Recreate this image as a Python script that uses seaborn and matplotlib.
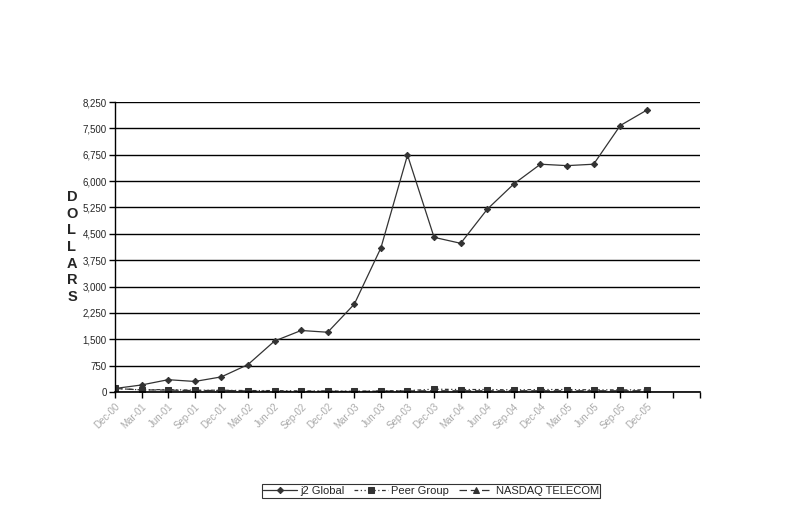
import matplotlib
matplotlib.use("Agg")
import matplotlib.pyplot as plt
import seaborn as sns
import pandas as pd
import numpy as np

quarters = ["Dec-00", "Mar-01", "Jun-01", "Sep-01", "Dec-01", "Mar-02", "Jun-02",
            "Sep-02", "Dec-02", "Mar-03", "Jun-03", "Sep-03", "Dec-03", "Mar-04",
            "Jun-04", "Sep-04", "Dec-04", "Mar-05", "Jun-05", "Sep-05", "Dec-05"]
j2_global = [100, 200, 350, 300, 430, 780, 1450, 1750, 1700, 2500, 4100, 6740,
             4400, 4230, 5200, 5920, 6480, 6440, 6480, 7580, 8020]
peer_group = [100, 60, 70, 50, 50, 40, 40, 30, 30, 20, 30, 40, 80, 70, 70, 60,
              70, 70, 60, 60, 60]
nasdaq_telecom = [100, 60, 55, 40, 45, 30, 20, 15, 20, 15, 25, 30, 35, 35, 35,
                  35, 35, 35, 35, 35, 35]
y_ticks = [0, 750, 1500, 2250, 3000, 3750, 4500, 5250, 6000, 6750, 7500, 8250]

sns.set_theme(style="white")
plt.rcParams['font.family'] = ['Liberation Sans', 'DejaVu Sans']

df = pd.DataFrame({
    "idx": list(range(len(quarters))) * 3,
    "value": j2_global + peer_group + nasdaq_telecom,
    "series": ["j2 Global"] * len(quarters) + ["Peer Group"] * len(quarters)
              + ["NASDAQ TELECOM"] * len(quarters),
})

fig = plt.figure(figsize=(7.95, 5.05), dpi=100)
ax = fig.add_axes([115 / 795, 1 - 392 / 505, 585 / 795, 290 / 505])

styles = {
    "j2 Global": dict(linestyle="-", marker="D", markersize=3.2, lw=0.9),
    "Peer Group": dict(linestyle=(0, (3, 2, 1, 2, 1, 2)), marker="s", markersize=5, lw=0.9),
    "NASDAQ TELECOM": dict(linestyle=(0, (6, 3)), marker="^", markersize=4, lw=0.9),
}
for name in ["j2 Global", "Peer Group", "NASDAQ TELECOM"]:
    sub = df[df.series == name]
    st = styles[name]
    sns.lineplot(data=sub, x="idx", y="value", ax=ax, color="#333333",
                 label=name, linestyle=st["linestyle"], marker=st["marker"],
                 markersize=st["markersize"], linewidth=st["lw"],
                 markeredgecolor="#333333", markerfacecolor="#333333")

ax.set_xlim(0, 22)
ax.set_ylim(0, 8250)
ax.set_yticks(y_ticks)
ax.set_yticklabels([f"{v:,}" for v in y_ticks], fontsize=7)
ax.set_xticks(range(23))
ax.set_xticklabels(quarters + ["", ""], rotation=45, ha="right",
                   rotation_mode="anchor", fontsize=7, color="#aaaaaa")
ax.tick_params(axis="x", length=4, width=1, color="black", direction="out", bottom=True, pad=3)
ax.tick_params(axis="y", length=4, width=1, color="black", direction="out", left=True, pad=2)
ax.grid(axis="y", color="black", linewidth=1)
ax.set_axisbelow(True)
for s in ["top", "right"]:
    ax.spines[s].set_visible(False)
ax.spines["left"].set_color("black")
ax.spines["bottom"].set_color("black")
ax.spines["left"].set_linewidth(1)
ax.spines["bottom"].set_linewidth(1.2)
ax.set_xlabel("")
ax.set_ylabel("")

fig.text(72 / 795, 1 - 247 / 505, "D\nO\nL\nL\nA\nR\nS", ha="center", va="center",
         fontsize=10.5, fontweight="bold", linespacing=1.25)

ax.get_legend().remove()
handles, labels = ax.get_legend_handles_labels()
leg = fig.legend(handles, labels, loc="center", bbox_to_anchor=(431 / 795, 1 - 491 / 505),
                 ncol=3, fontsize=8, frameon=True, fancybox=False, edgecolor="black",
                 handlelength=3.0, columnspacing=0.9, handletextpad=0.3,
                 borderpad=0.15)
leg.get_frame().set_linewidth(0.8)

fig.savefig("out.png", dpi=100, facecolor="white")
